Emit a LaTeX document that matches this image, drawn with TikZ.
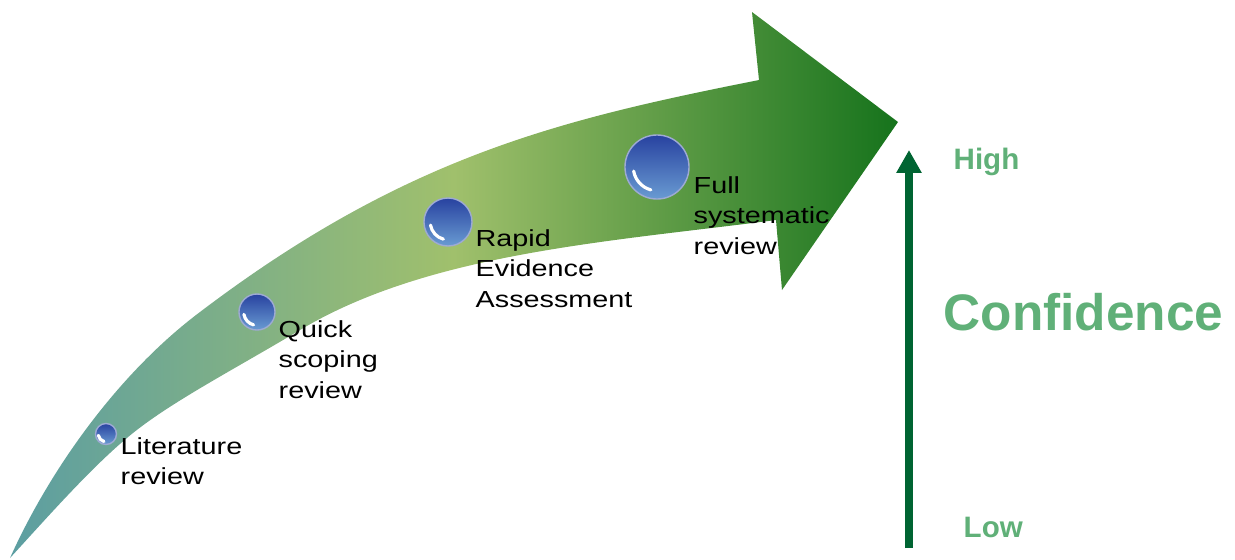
\documentclass[tikz,border=0pt]{standalone}
\usepackage{fontspec}
\usepackage{graphicx}
\newfontfamily\arial{Liberation Sans}
\usetikzlibrary{arrows.meta,calc,positioning}
\definecolor{tailteal}{RGB}{92,158,162}
\definecolor{midgreen}{RGB}{160,192,108}
\definecolor{tipgreen}{RGB}{22,115,28}
\definecolor{axisgreen}{RGB}{0,100,50}
\definecolor{confgreen}{RGB}{96,176,120}
\definecolor{beadtop}{RGB}{40,66,160}
\definecolor{beadbot}{RGB}{105,155,210}
\newcommand{\steptext}[1]{\scalebox{1.24}[1]{\begin{tabular}[t]{@{}l@{}}#1\end{tabular}}}

\begin{document}
\begin{tikzpicture}[x=0.01cm,y=-0.01cm,
bead/.style={circle,inner sep=0pt,minimum size=#1,top color=beadtop,bottom color=beadbot,
  draw=white!55!beadtop,thin,
  path picture={\draw[white,line width=.9pt,line cap=round]
    let \p1=(path picture bounding box.east),\p2=(path picture bounding box.center),
    \n1={0.74*(\x1-\x2)} in
    (\p2) ++(190:\n1) arc[start angle=190,end angle=255,radius=\n1];}},
steplabel/.style={inner sep=0pt,anchor=base west,font=\arial\fontsize{6.6}{8.8}\selectfont},
scalelabel/.style={inner sep=0pt,anchor=base west,text=confgreen,font=\arial\bfseries\fontsize{8.4}{10}\selectfont},
confarrow/.style={axisgreen,line width=2.3pt,-{Triangle[width=6.8pt,length=6.5pt]}}]
\useasboundingbox (0,0) rectangle (1235,560);

\shade[left color=tailteal,right color=tipgreen,middle color=midgreen]
  (10,558) .. controls (51,467) and (120,372) .. (200,312)
  .. controls (407,155) and (563,119) .. (759,80)
  -- (752,12) -- (898,122) -- (782,290) -- (776,220)
  .. controls (607,242) and (429,253) .. (300,330)
  .. controls (233,370) and (173,401) .. (133,433)
  .. controls (93,465) and (45,520) .. (10,558)
  -- cycle;

\node[bead=2.1mm] (litbead) at (106,434) {};
\node[bead=3.6mm] (quickbead) at (257,312) {};
\node[bead=4.8mm] (rapidbead) at (448,222) {};
\node[bead=6.4mm] (fullbead) at (657,167) {};
\node[steplabel] (lit) at (120,454) {\steptext{Literature\\review}};
\node[steplabel] (quick) at (278,337) {\steptext{Quick\\scoping\\review}};
\node[steplabel] (rapid) at (475,246) {\steptext{Rapid\\Evidence\\Assessment}};
\node[steplabel] (full) at (693,193) {\steptext{Full\\systematic\\review}};

\coordinate (lowpt) at (909,548);
\coordinate (highpt) at (909,150);
\draw[confarrow] (lowpt) -- (highpt);
\node[scalelabel] (high) at (953,169) {High};
\node[scalelabel] (low) at (963,537) {Low};
\node[scalelabel,font=\arial\bfseries\fontsize{14.6}{17}\selectfont] (conf) at (943,330) {Confidence};
\end{tikzpicture}
\end{document}
